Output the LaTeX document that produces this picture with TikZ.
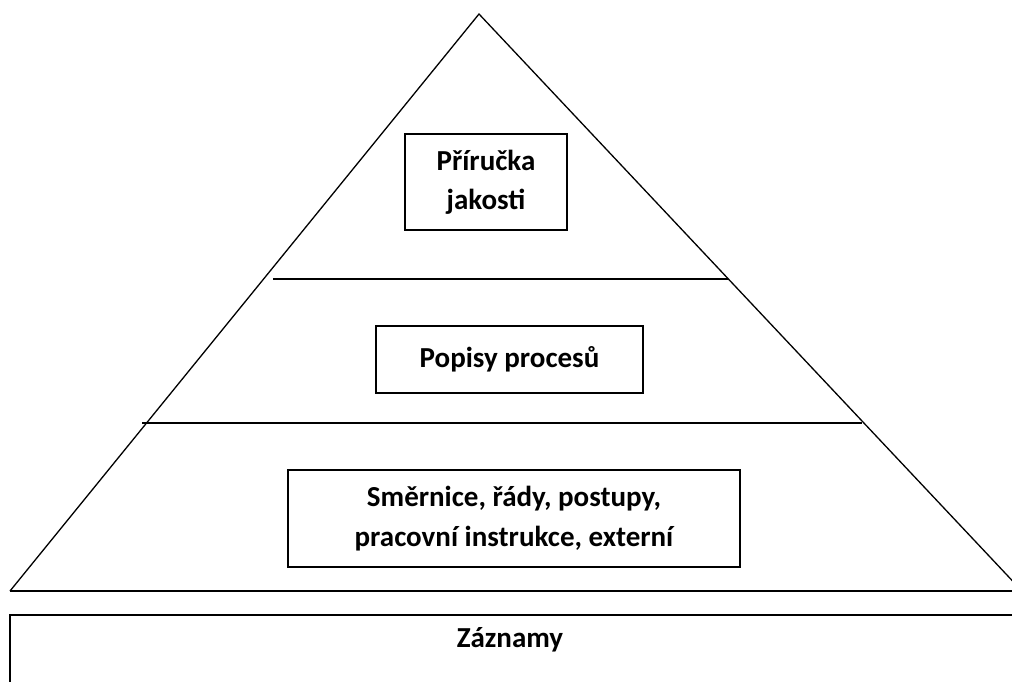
\documentclass[tikz,border=0pt]{standalone}
\usepackage{fontspec}
\setmainfont{Carlito}
\begin{document}
\begin{tikzpicture}[x=1pt,y=-1pt,
  edge/.style={line width=1.6pt,line join=miter},
  label/.style={font=\fontsize{29}{39}\selectfont\bfseries,align=center,inner sep=0pt},
  docbox/.style={draw,line width=1.6pt,label,inner sep=0pt}]
\useasboundingbox (0,0) rectangle (1012,681);
\clip (0,0) rectangle (1012,681);

% pyramid corners
\coordinate (apex) at (479,14);
\coordinate (baseL) at (10,591);
\coordinate (baseR) at (1022,591);
\draw[edge,line width=1.3pt] (baseL) -- (apex) -- (baseR);
\coordinate (baseEnd) at (1030,591);
\draw[edge] (baseL) -- (baseEnd);

% level dividers
\coordinate (d1L) at (273,279);
\coordinate (d1R) at (728,279);
\coordinate (d2L) at (142,423);
\coordinate (d2R) at (862,423);
\draw[edge] (d1L) -- (d1R);
\draw[edge] (d2L) -- (d2R);

% documents in each level
\node[docbox,minimum width=162pt,minimum height=96pt] (manual) at (486,182) {Příručka\\jakosti};
\node[docbox,minimum width=267pt,minimum height=67pt] (process) at (509.5,359.5) {Popisy procesů};
\node[docbox,minimum width=452pt,minimum height=97pt] (rules) at (514,518.5) {Směrnice, řády, postupy,\\[1pt]pracovní instrukce, externí};

% records band
\coordinate (recTL) at (10,615);
\coordinate (recBR) at (1040,700);
\draw[edge] (recTL) rectangle (recBR);
\node[label] (records) at (510,640) {Záznamy};
\end{tikzpicture}
\end{document}
